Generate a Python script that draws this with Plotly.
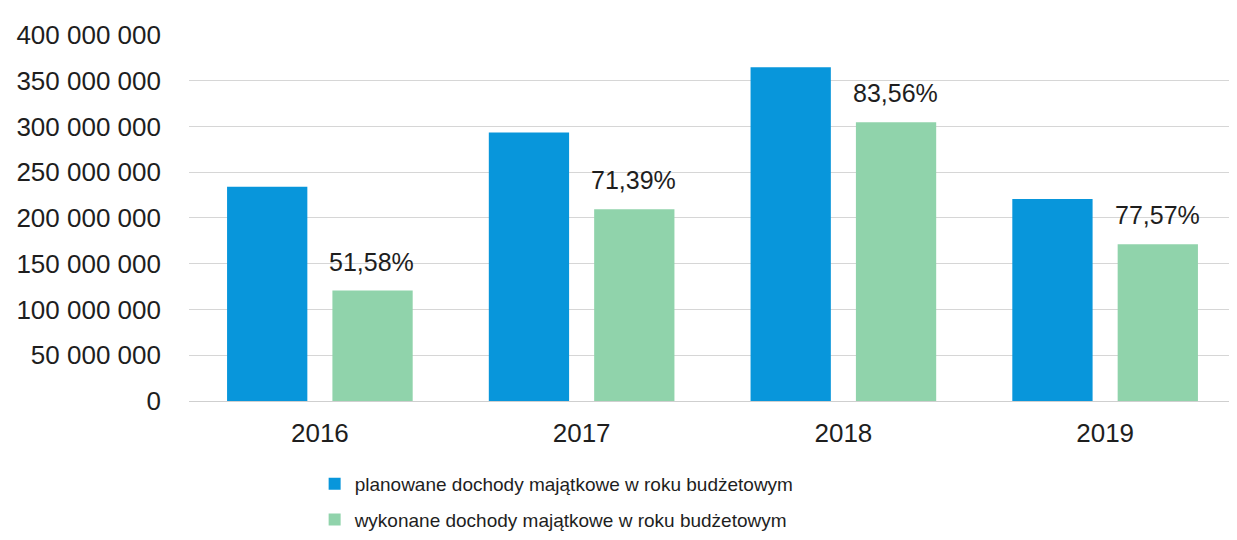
import plotly.graph_objects as go

years = ["2016", "2017", "2018", "2019"]
planned = [234_000_000, 293_500_000, 364_700_000, 220_800_000]
executed = [120_700_000, 209_500_000, 304_700_000, 171_300_000]
pct_labels = ["51,58%", "71,39%", "83,56%", "77,57%"]
y_ticks = [0, 50_000_000, 100_000_000, 150_000_000, 200_000_000,
           250_000_000, 300_000_000, 350_000_000, 400_000_000]
y_tick_labels = ["0", "50 000 000", "100 000 000", "150 000 000", "200 000 000",
                 "250 000 000", "300 000 000", "350 000 000", "400 000 000"]

FONT = "Liberation Sans, Arial, sans-serif"
TXT = "#1e1e1e"

fig = go.Figure()
fig.add_trace(go.Bar(x=years, y=planned,
                     name="planowane dochody majątkowe w roku budżetowym",
                     marker=dict(color="#0896DB", line=dict(width=0)),
                     legendgroup="a"))
fig.add_trace(go.Bar(x=years, y=executed,
                     name="wykonane dochody majątkowe w roku budżetowym",
                     marker=dict(color="#90D3AB", line=dict(width=0)),
                     legendgroup="b"))

# category index positions (numeric-looking category names would be read as indices)
for i, (v, t) in enumerate(zip(executed, pct_labels)):
    fig.add_annotation(x=i, y=v, xref="x", yref="y", text=t, showarrow=False,
                       xshift=52, yshift=13, yanchor="bottom",
                       font=dict(family=FONT, size=25, color=TXT))

fig.update_layout(
    width=1237, height=540,
    margin=dict(l=181, r=9, t=26, b=142),
    paper_bgcolor="white", plot_bgcolor="white",
    barmode="group", bargap=0.195, bargroupgap=0.238,
    font=dict(family=FONT, size=24, color=TXT),
    showlegend=True,
    legend=dict(orientation="v", x=0.12, xanchor="left",
                y=-0.174, yanchor="top",
                font=dict(family=FONT, size=19, color=TXT),
                tracegroupgap=8, itemwidth=30,
                bgcolor="rgba(0,0,0,0)"),
    xaxis=dict(type="category", range=[-0.5, 3.5], showgrid=False, showline=False,
               automargin=False,
               ticks="", tickfont=dict(family=FONT, size=26, color=TXT),
               ticklabelstandoff=14),
    yaxis=dict(range=[0, 401_000_000], tickvals=y_ticks, ticktext=y_tick_labels,
               automargin=False,
               showgrid=True, gridcolor="#d6d6d6", gridwidth=1,
               zeroline=True, zerolinecolor="#cfcfcf", zerolinewidth=1,
               showline=False, ticks="",
               tickfont=dict(family=FONT, size=26, color=TXT),
               ticklabelstandoff=27),
)

fig.write_html("out.html")
